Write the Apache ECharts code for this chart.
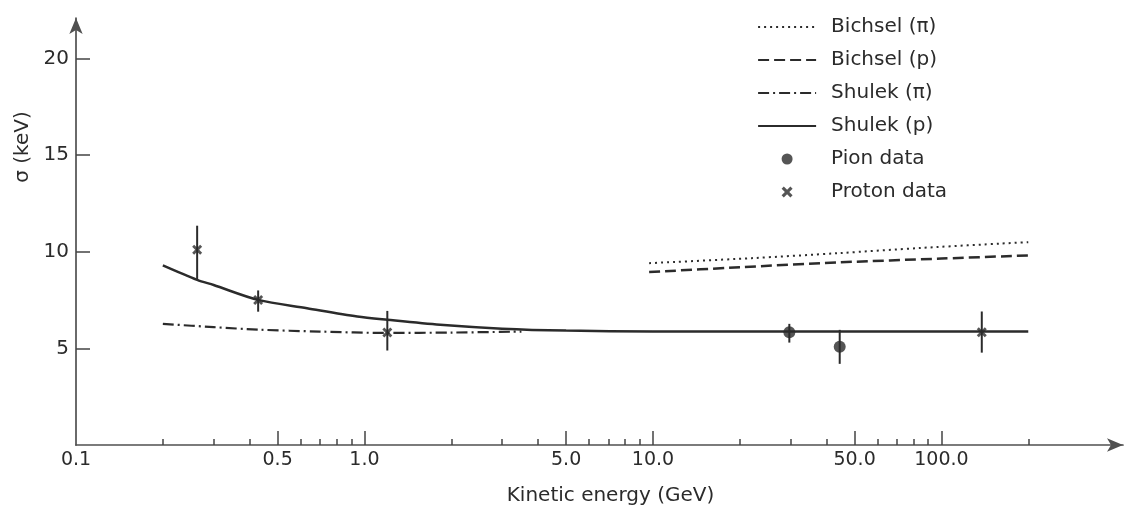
<!DOCTYPE html>
<html><head><meta charset="utf-8">
<script src="https://cdn.jsdelivr.net/npm/echarts@6/dist/echarts.min.js"></script>
<style>html,body{margin:0;padding:0;background:#fff}#c{width:1124px;height:512px}</style>
</head><body><div id="c"></div>
<script>
// Tick labels / positions (GeV)
const xLabelValues = [0.1, 0.5, 1, 5, 10, 50, 100];
const xLabelText = ['0.1', '0.5', '1.0', '5.0', '10.0', '50.0', '100.0'];
const xMajorTicks = [0.5, 1, 5, 10, 50, 100];
const xMinorTicks = [0.2, 0.3, 0.4, 0.6, 0.7, 0.8, 0.9, 2, 3, 4, 6, 7, 8, 9, 20, 30, 40, 60, 70, 80, 90, 200];
const yTicks = [5, 10, 15, 20];

// Theory curves
const bichselPiX = [9.7, 22, 44, 85, 200];
const bichselPiY = [9.41, 9.67, 9.93, 10.2, 10.5];
const bichselPX = [9.7, 20, 44, 100, 200];
const bichselPY = [8.95, 9.2, 9.45, 9.65, 9.81];
const shulekPiX = [0.2, 0.3, 0.43, 0.7, 1.2, 2, 3.5];
const shulekPiY = [6.27, 6.1, 5.97, 5.87, 5.8, 5.82, 5.87];
const shulekPX = [0.2, 0.263, 0.3, 0.428, 0.632, 0.944, 1.2, 1.83, 3, 5, 10, 30, 200];
const shulekPY = [9.3, 8.55, 8.28, 7.51, 7.08, 6.65, 6.48, 6.22, 6.02, 5.92, 5.88, 5.87, 5.88];

// Measurements
const pionX = [29.7, 44.4];
const pionY = [5.84, 5.09];
const pionLo = [5.30, 4.20];
const pionHi = [6.27, 5.96];
const protonX = [0.263, 0.428, 1.2, 138];
const protonY = [10.10, 7.51, 5.82, 5.84];
const protonLo = [8.55, 6.90, 4.89, 4.78];
const protonHi = [11.35, 8.00, 6.94, 6.91];

const INK = '#2b2b2b';
const FONT = 'DejaVu Sans';
const XMARK = 'path://M0 2L2 0L5 3L8 0L10 2L7 5L10 8L8 10L5 7L2 10L0 8L3 5Z';
const zip = (a, b) => a.map((v, i) => [v, b[i]]);
const errData = protonX.map((x, i) => [x, protonLo[i], protonHi[i]])
  .concat(pionX.map((x, i) => [x, pionLo[i], pionHi[i]]));

const chart = echarts.init(document.getElementById('c'), null, {renderer: 'canvas'});
const baseX = {
  type: 'log', logBase: 10, min: 0.1, max: 426, gridIndex: 0, position: 'bottom',
  splitLine: {show: false}, minorTick: {show: false}, minorSplitLine: {show: false}
};
const hideSym = {opacity: 0};
chart.setOption({
  backgroundColor: '#fff',
  animation: false,
  grid: {left: 76, right: 1, top: 18, bottom: 67, containLabel: false},
  xAxis: [
    Object.assign({}, baseX, {
      axisLine: {show: true, lineStyle: {color: '#505050', width: 1.7}, symbol: ['none', 'arrow'], symbolSize: [10, 16]},
      axisTick: {show: true, inside: true, length: 6, lineStyle: {color: '#444', width: 1.5}, customValues: xMinorTicks},
      axisLabel: {show: false},
      name: 'Kinetic energy (GeV)', nameLocation: 'middle', nameGap: 41,
      nameTextStyle: {fontSize: 20, color: INK, fontFamily: FONT, padding: [0, 0, 0, 22]}
    }),
    Object.assign({}, baseX, {
      axisLine: {show: false},
      axisTick: {show: true, inside: true, length: 14, lineStyle: {color: '#444', width: 1.5}, customValues: xMajorTicks},
      axisLabel: {show: true, margin: 6, fontSize: 19, color: INK, fontFamily: FONT, customValues: xLabelValues,
        formatter: v => { const i = xLabelValues.findIndex(t => Math.abs(t - v) < 1e-6 * Math.max(1, t)); return i >= 0 ? xLabelText[i] : ''; }}
    })
  ],
  yAxis: {
    type: 'value', min: 0, max: 22.1, interval: 5,
    splitLine: {show: false},
    axisLine: {show: true, lineStyle: {color: '#505050', width: 1.7}, symbol: ['none', 'arrow'], symbolSize: [10, 16]},
    axisTick: {show: true, inside: true, length: 14, lineStyle: {color: '#444', width: 1.5}, customValues: yTicks},
    axisLabel: {show: true, margin: 7, fontSize: 20, color: INK, fontFamily: FONT, customValues: yTicks}
  },
  legend: {
    orient: 'vertical', left: 752, top: 11, itemWidth: 58, itemHeight: 11, itemGap: 11,
    selectedMode: false,
    lineStyle: {width: 2.2},
    textStyle: {fontSize: 20, color: INK, fontFamily: FONT, lineHeight: 22, padding: [0, 0, 0, 10]},
    data: [
      {name: 'Bichsel (π)', itemStyle: hideSym},
      {name: 'Bichsel (p)', itemStyle: hideSym},
      {name: 'Shulek (π)', itemStyle: hideSym},
      {name: 'Shulek (p)', itemStyle: hideSym},
      'Pion data',
      {name: 'Proton data', icon: XMARK}]
  },
  graphic: [{
    type: 'text', x: 23, y: 147, rotation: Math.PI / 2,
    style: {text: 'σ (keV)', fontSize: 20, fill: INK, fontFamily: FONT, align: 'center', verticalAlign: 'middle'}
  }],
  series: [
    {name: 'Bichsel (π)', type: 'line', data: zip(bichselPiX, bichselPiY), symbol: 'none', smooth: 0.3,
      lineStyle: {color: INK, width: 2, type: [2, 4]}, itemStyle: {color: INK}},
    {name: 'Bichsel (p)', type: 'line', data: zip(bichselPX, bichselPY), symbol: 'none', smooth: 0.3,
      lineStyle: {color: INK, width: 2.5, type: [11, 5]}, itemStyle: {color: INK}},
    {name: 'Shulek (π)', type: 'line', data: zip(shulekPiX, shulekPiY), symbol: 'none', smooth: 0.3,
      lineStyle: {color: INK, width: 2.2, type: [11, 4, 2, 4]}, itemStyle: {color: INK}},
    {name: 'Shulek (p)', type: 'line', data: zip(shulekPX, shulekPY), symbol: 'none', smooth: 0.3,
      lineStyle: {color: INK, width: 2.5}, itemStyle: {color: INK}},
    {name: 'errors', type: 'custom', data: errData, encode: {x: 0, y: [1, 2]}, z: 3,
      renderItem: (params, api) => {
        const a = api.coord([api.value(0), api.value(1)]);
        const b = api.coord([api.value(0), api.value(2)]);
        return {type: 'line', shape: {x1: a[0], y1: a[1], x2: b[0], y2: b[1]}, style: {stroke: INK, lineWidth: 2}};
      }},
    {name: 'Pion data', type: 'scatter', data: zip(pionX, pionY), symbol: 'circle', symbolSize: 12, z: 4,
      itemStyle: {color: INK}},
    {name: 'Proton data', type: 'scatter', data: zip(protonX, protonY), z: 4,
      symbol: XMARK, symbolSize: 10, itemStyle: {color: INK}}
  ]
});
</script></body></html>
